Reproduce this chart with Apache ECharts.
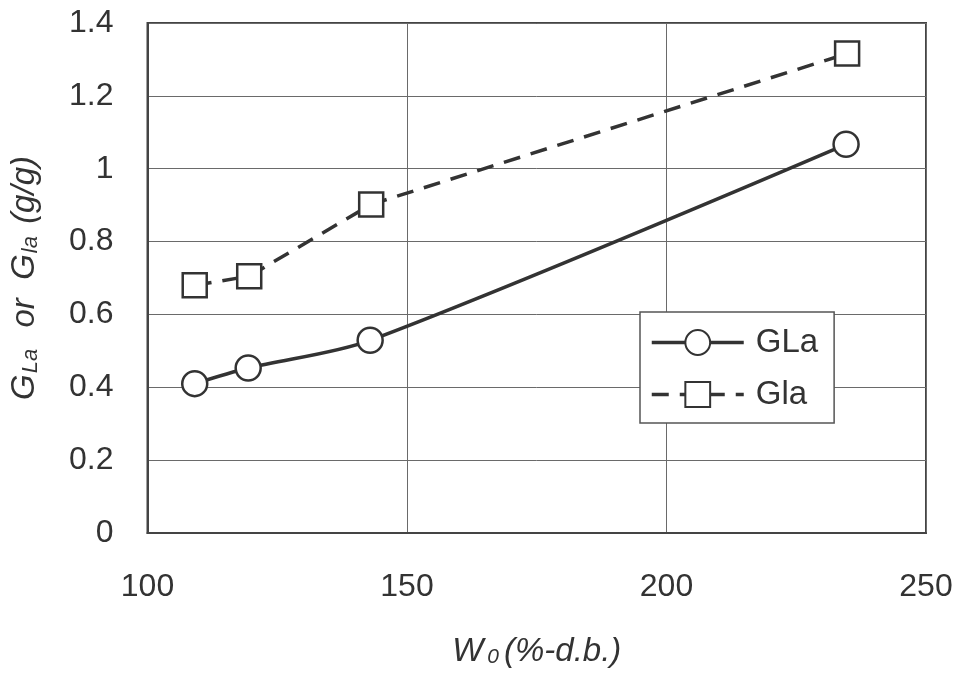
<!DOCTYPE html>
<html>
<head>
<meta charset="utf-8">
<title>GLa / Gla vs W0</title>
<script src="https://cdn.jsdelivr.net/npm/echarts@6/dist/echarts.min.js"></script>
<style>
  html, body { margin: 0; padding: 0; background: #fff; }
  #chart { width: 964px; height: 674px; }
</style>
</head>
<body>
<div id="chart"></div>
<script>
// values
const wGLa = [109.1, 119.4, 142.9, 234.6];
const valGLa = [0.410, 0.453, 0.529, 1.067];
const wGla = [109.1, 119.6, 143.1, 234.8];
const valGla = [0.680, 0.705, 0.902, 1.316];
const xTicks = [100, 150, 200, 250];
const yTicks = [0, 0.2, 0.4, 0.6, 0.8, 1, 1.2, 1.4];

const ink = '#333';
const font = 'Liberation Sans';

const pairs = (xs, ys) => xs.map((x, i) => [x, ys[i]]);

const chart = echarts.init(document.getElementById('chart'));
chart.setOption({
  backgroundColor: '#fff',
  animation: false,
  grid: {
    left: 146, right: 38, top: 23, bottom: 141,
    show: true, borderColor: '#444', borderWidth: 2
  },
  legend: {
    orient: 'vertical',
    left: 640, top: 312,
    padding: [14, 16, 12, 10],
    itemWidth: 92, itemHeight: 31, itemGap: 19,
    backgroundColor: '#fff',
    borderColor: '#555', borderWidth: 1.5,
    lineStyle: { width: 3.5 },
    textStyle: { fontFamily: font, fontSize: 33, color: ink, padding: [0, 0, 0, 7] },
    data: ['GLa', 'Gla']
  },
  xAxis: {
    type: 'value',
    min: xTicks[0], max: xTicks[xTicks.length - 1], interval: 50,
    axisLine: { show: true, lineStyle: { color: '#444', width: 2 } },
    axisTick: { show: false },
    splitLine: { show: true, lineStyle: { color: '#6a6a6a', width: 1 } },
    axisLabel: { margin: 38, fontFamily: font, fontSize: 32, color: ink },
    name: '{w|W}{s|0}{w|(%-d.b.)}',
    nameLocation: 'middle',
    nameGap: 102,
    nameTextStyle: {
      rich: {
        w: { fontFamily: font, fontStyle: 'italic', fontSize: 33, color: ink },
        s: { fontFamily: font, fontStyle: 'italic', fontSize: 21, color: ink, padding: [12, 5, 0, 4] }
      }
    }
  },
  yAxis: {
    type: 'value',
    min: 0, max: yTicks[yTicks.length - 1], interval: 0.2,
    axisLine: { show: true, lineStyle: { color: '#444', width: 2 } },
    axisTick: { show: false },
    splitLine: { show: true, lineStyle: { color: '#6a6a6a', width: 1 } },
    axisLabel: {
      margin: 34, fontFamily: font, fontSize: 32, color: ink,
      formatter: v => String(+v.toFixed(1))
    },
    name: '{g|G}{s|La}{g|  or  G}{s|la}{g| (g/g)}',
    nameLocation: 'middle',
    nameGap: 106,
    nameTextStyle: {
      rich: {
        g: { fontFamily: font, fontStyle: 'italic', fontSize: 33, color: ink },
        s: { fontFamily: font, fontStyle: 'italic', fontSize: 22, color: ink, padding: [12, 3, 0, 1] }
      }
    }
  },
  series: [
    {
      name: 'GLa',
      type: 'line',
      data: pairs(wGLa, valGLa),
      smooth: 0.3,
      symbol: 'circle', symbolSize: 25,
      lineStyle: { color: ink, width: 3.5 },
      itemStyle: { color: '#fff', borderColor: ink, borderWidth: 2.5 },
      z: 3
    },
    {
      name: 'Gla',
      type: 'line',
      data: pairs(wGla, valGla),
      symbol: 'rect', symbolSize: 24,
      lineStyle: { color: ink, width: 3.5, type: [17, 11] },
      itemStyle: { color: '#fff', borderColor: ink, borderWidth: 2.5 },
      z: 3
    }
  ]
});
</script>
</body>
</html>
